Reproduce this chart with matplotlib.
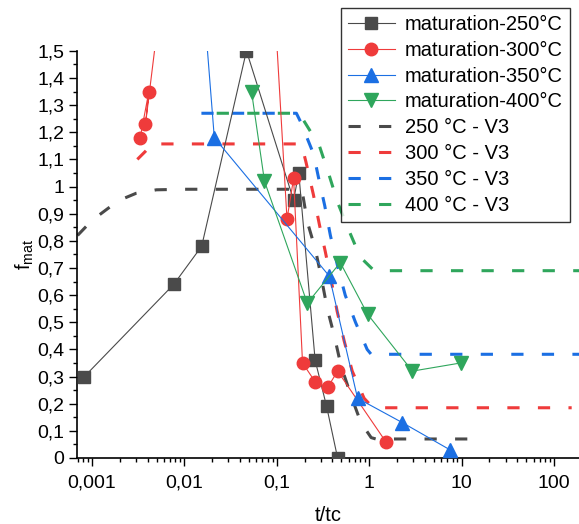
import numpy as np
import matplotlib
matplotlib.use("Agg")
import matplotlib.pyplot as plt
import matplotlib.ticker as tick
from matplotlib.lines import Line2D

plt.rcParams['font.family'] = ['Liberation Sans', 'DejaVu Sans']
plt.rcParams['mathtext.fontset'] = 'custom'
plt.rcParams['mathtext.rm'] = 'Liberation Sans'
plt.rcParams['mathtext.it'] = 'Liberation Sans:italic'

# measured maturation data (t/tc, f_mat)
t_250 = [0.00083, 0.0077, 0.0154, 0.047, 0.152, 0.173, 0.26, 0.346, 0.455]
f_250 = [0.30, 0.64, 0.78, 1.50, 0.95, 1.05, 0.36, 0.19, 0.0]

t_300 = [0.00333, 0.00413, 0.0038, 0.038, 0.129, 0.152, 0.19, 0.261, 0.355, 0.455, 1.51]
f_300 = [1.18, 1.35, 1.23, 4.0, 0.88, 1.03, 0.35, 0.28, 0.26, 0.32, 0.06]

t_350 = [0.012, 0.0211, 0.37, 0.748, 2.29, 7.48]
f_350 = [2.24, 1.18, 0.67, 0.22, 0.13, 0.03]

t_400 = [0.0533, 0.0736, 0.214, 0.486, 0.959, 2.93, 9.75]
f_400 = [1.35, 1.02, 0.57, 0.72, 0.53, 0.32, 0.35]

# model V3 curves
tv_250 = [0.0007, 0.001, 0.0015, 0.002, 0.003, 0.005, 0.01, 0.17, 0.19, 0.214, 0.261, 0.301,
          0.352, 0.419, 0.495, 0.635, 0.814, 1.05, 1.18, 15.7]
fv_250 = [0.82, 0.875, 0.92, 0.95, 0.975, 0.988, 0.99, 0.99, 0.975, 0.87, 0.77, 0.67,
          0.55, 0.45, 0.34, 0.23, 0.13, 0.075, 0.07, 0.07]

tv_300 = [0.0031, 0.0038, 0.0045, 0.185, 0.207, 0.249, 0.289, 0.335, 0.39, 0.45, 0.537,
          0.655, 0.88, 1.1, 155]
fv_300 = [1.10, 1.13, 1.157, 1.157, 1.09, 0.97, 0.86, 0.76, 0.65, 0.54, 0.43,
          0.32, 0.22, 0.185, 0.185]

tv_350 = [0.0153, 0.163, 0.18, 0.25, 0.28, 0.33, 0.38, 0.46, 0.55, 0.71, 0.95, 1.05, 186]
fv_350 = [1.27, 1.27, 1.24, 1.12, 1.04, 0.93, 0.82, 0.70, 0.60, 0.50, 0.40, 0.382, 0.382]

tv_400 = [0.0153, 0.178, 0.19, 0.289, 0.37, 0.457, 0.6, 0.8, 1.13, 186]
fv_400 = [1.27, 1.27, 1.25, 1.15, 1.04, 0.94, 0.84, 0.74, 0.69, 0.69]

x_ticks = [0.001, 0.01, 0.1, 1, 10, 100]
x_labels = ["0,001", "0,01", "0,1", "1", "10", "100"]
y_ticks = [0, 0.1, 0.2, 0.3, 0.4, 0.5, 0.6, 0.7, 0.8, 0.9, 1.0, 1.1, 1.2, 1.3, 1.4, 1.5]
y_labels = ["0", "0,1", "0,2", "0,3", "0,4", "0,5", "0,6", "0,7", "0,8", "0,9",
            "1", "1,1", "1,2", "1,3", "1,4", "1,5"]

c_black = '#4a4a4a'
c_red = '#ef3b3b'
c_blue = '#1b6fe3'
c_green = '#2fa65c'

fig = plt.figure(figsize=(5.79, 5.24), dpi=100)
ax = fig.add_axes([0.133, 0.126, 0.867, 0.777])

# data with markers
h1, = ax.plot(t_250, f_250, color=c_black, lw=0.8, marker='s', ms=8, label='maturation-250°C', zorder=3)
h2, = ax.plot(t_300, f_300, color=c_red, lw=0.8, marker='o', ms=9, label='maturation-300°C', zorder=3)
h3, = ax.plot(t_350, f_350, color=c_blue, lw=0.8, marker='^', ms=10, label='maturation-350°C', zorder=3)
h4, = ax.plot(t_400, f_400, color=c_green, lw=0.8, marker='v', ms=10, label='maturation-400°C', zorder=3)

#V3 model curves
h5, = ax.plot(tv_250, fv_250, color=c_black, lw=2.2, ls=(0, (4, 6)), label='250 °C - V3', zorder=2)
h6, = ax.plot(tv_300, fv_300, color=c_red, lw=2.2, ls=(0, (4, 6)), label='300 °C - V3', zorder=2)
h7, = ax.plot(tv_350, fv_350, color=c_blue, lw=2.2, ls=(0, (4, 6)), label='350 °C - V3', zorder=2)
# green shifted so its dashes sit in the gaps of the blue ones on the shared plateau
ax.plot(tv_400, fv_400, color=c_green, lw=2.2, ls=(5, (4, 6)), zorder=2)
h8 = Line2D([], [], color=c_green, lw=2.2, ls=(0, (4, 6)), label='400 °C - V3')

ax.set_xscale('log')
ax.set_xlim(0.00069, 186)
ax.set_ylim(0, 1.5)

ax.set_xticks(x_ticks)
ax.set_xticklabels(x_labels)
ax.xaxis.set_minor_locator(tick.LogLocator(base=10, subs=np.arange(2, 10)))
ax.xaxis.set_minor_formatter(tick.NullFormatter())
ax.set_yticks(y_ticks)
ax.set_yticklabels(y_labels)
ax.yaxis.set_minor_locator(tick.MultipleLocator(0.05))

ax.tick_params(which='major', direction='out', length=6, width=1, labelsize=14)
ax.tick_params(axis='x', which='major', pad=6)
ax.tick_params(axis='y', which='major', pad=3)
ax.tick_params(which='minor', direction='out', length=3, width=1)

ax.spines['top'].set_visible(False)
ax.spines['right'].set_visible(False)
ax.spines['left'].set_linewidth(1.2)
ax.spines['bottom'].set_linewidth(1.2)

ax.set_xlabel("t/tc", fontsize=14.5, labelpad=10)
ax.set_ylabel("f$_{\\mathrm{mat}}$", fontsize=14.5, labelpad=1)

leg = ax.legend(handles=[h1, h2, h3, h4, h5, h6, h7, h8],
                loc='upper right', bbox_to_anchor=(0.984, 0.985), bbox_transform=fig.transFigure,
                fontsize=14.5, frameon=True, fancybox=False, edgecolor='black',
                handlelength=2.3, labelspacing=0.34, borderpad=0.35, handletextpad=0.5,
                borderaxespad=0)
leg.get_frame().set_linewidth(1.0)
leg.set_zorder(5)

fig.savefig("out.png", dpi=100)
